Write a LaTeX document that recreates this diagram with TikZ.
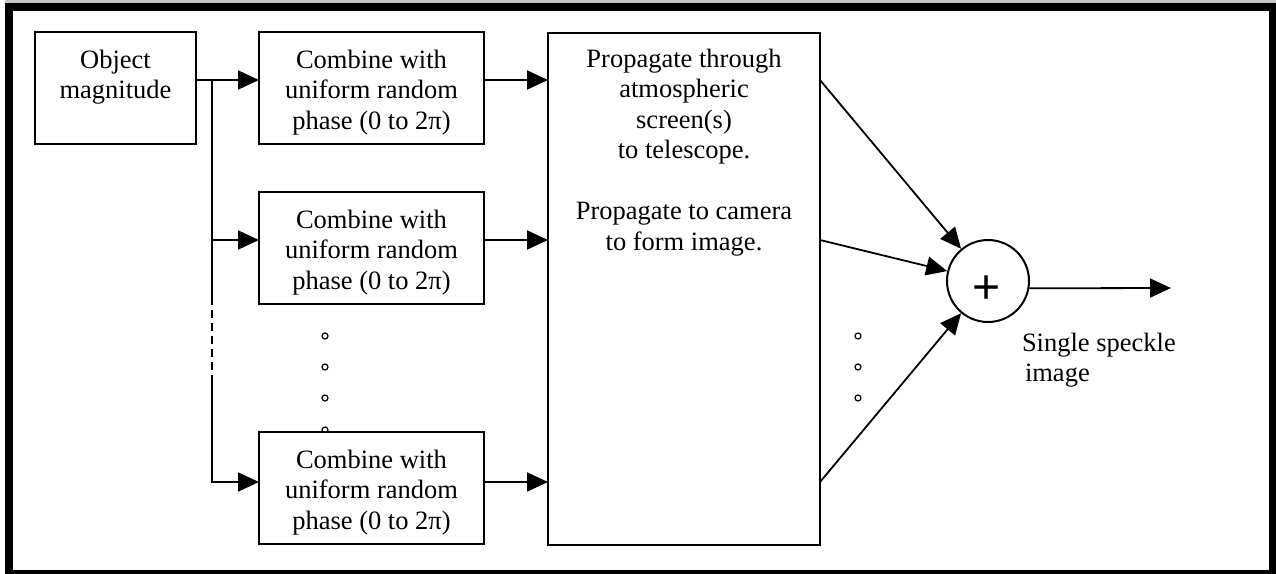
\documentclass[tikz,border=0pt]{standalone}
\usepackage{fontspec}
\setmainfont{Liberation Serif}
\newfontfamily\plusfont{Liberation Sans}
\usetikzlibrary{arrows.meta}
\newcommand{\txtfont}{\fontsize{26.5}{30.5}\selectfont}
\newcommand{\topst}{\rule{0pt}{26.75pt}}
\newcommand{\botst}{\rule[-5.75pt]{0pt}{5.75pt}}
\begin{document}
\begin{tikzpicture}[x=1pt,y=-1pt,
  box/.style={draw, fill=white, line width=2pt, inner sep=0pt, outer sep=0pt, align=center, font=\txtfont},
  txt/.style={inner sep=0pt, outer sep=0pt, font=\txtfont},
  conn/.style={line width=1.8pt},
  arr/.style={conn, -{Triangle[length=21pt,width=19pt]}},
  dotc/.style={line width=1.2pt}]
\useasboundingbox (0,0) rectangle (1276,573);
% frame
\fill[gray!45] (5,0) rectangle (1276,2.6);
\draw[line width=7.5pt] (9,6.75) rectangle (1273,574);
% dots (left column)
\foreach \yy in {336,367,398,430} \draw[dotc] (325,\yy) circle (3pt);
% dots (right column)
\foreach \yy in {336,367,398} \draw[dotc] (858,\yy) circle (3pt);
% boxes
\node[box, minimum width=161pt, minimum height=112pt] (obj) at (115.5,88)
  {\topst Object\\magnitude\\\botst};
\node[box, minimum width=225pt, minimum height=112pt] (c1) at (371.5,88)
  {\topst Combine with\\uniform random\\phase (0 to 2π)};
\node[box, minimum width=225pt, minimum height=112pt] (c2) at (371.5,248)
  {\topst Combine with\\uniform random\\phase (0 to 2π)};
\node[box, minimum width=225pt, minimum height=112pt] (c3) at (371.5,488)
  {\topst Combine with\\uniform random\\phase (0 to 2π)};
\node[box, minimum width=272pt, minimum height=512pt] (big) at (684,289) {};
\node[txt, align=center, anchor=north] (bigtxt) at (684,49)
  {Propagate through\\atmospheric\\screen(s)\\to telescope.\\[30.5pt]Propagate to camera\\to form image.};
\node[draw, circle, line width=2pt, minimum size=82pt, inner sep=0pt] (sum) at (988,281) {};
\node[inner sep=0pt, font=\plusfont\fontsize{48}{48}\selectfont] (plus) at (987,289.5) {+};
\node[txt, align=left, anchor=north west] (outtxt) at (1022,333)
  {Single speckle\\\hspace{3pt}image};
% junction coordinates
\coordinate (j1) at (212,80);
\coordinate (j2) at (212,240);
\coordinate (j3) at (212,482);
\coordinate (d1) at (212,297);
\coordinate (d2) at (212,383);
\coordinate (out) at (1171,288);
% connectors
\draw[arr] (obj.east |- j1) -- (c1.west |- j1);
\draw[conn] (j1) -- (d1);
\draw[conn, dash pattern=on 8pt off 5pt] (d1) -- (d2);
\draw[arr] (d2) -- (j3) -- (c3.west |- j3);
\draw[arr] (j2) -- (c2.west |- j2);
\draw[arr] (c1.east |- j1) -- (big.west |- j1);
\draw[arr] (c2.east |- j2) -- (big.west |- j2);
\draw[arr] (c3.east |- j3) -- (big.west |- j3);
\draw[arr] (big.east |- j1) -- (sum);
\draw[arr] (big.east |- j2) -- (sum);
\draw[arr] (big.east |- j3) -- (sum);
\draw[arr] (sum.-10) -- (out);
\end{tikzpicture}
\end{document}
